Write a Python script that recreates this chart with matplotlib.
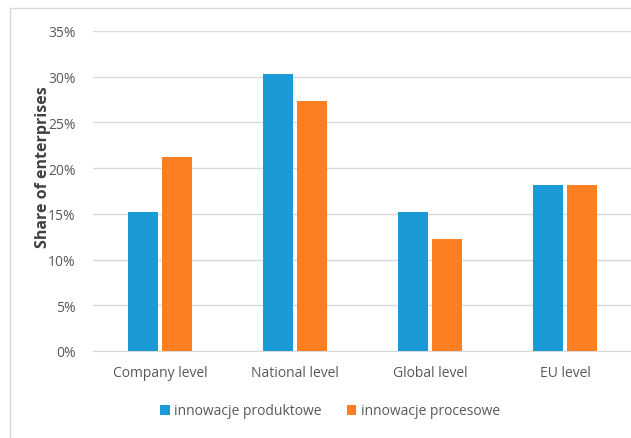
import matplotlib
matplotlib.use('Agg')
import matplotlib.pyplot as plt
import numpy as np
from matplotlib.patches import Rectangle
from matplotlib.ticker import PercentFormatter

plt.rcParams['font.family'] = ['Open Sans', 'DejaVu Sans']

# data
categories = ['Company level', 'National level', 'Global level', 'EU level']
series_names = ['innowacje produktowe', 'innowacje procesowe']
produktowe = [15.2, 30.3, 15.2, 18.2]
procesowe = [21.2, 27.3, 12.2, 18.2]
y_ticks = [0, 5, 10, 15, 20, 25, 30, 35]

blue = '#1a9ad6'
orange = '#fd7f22'
txt = '#595959'


def main():
    fig = plt.figure(figsize=(6.31, 4.39), dpi=100)
    # light frame around the chart area
    fig.patches.append(Rectangle((10 / 631, -0.05), 1.1, 0.05 + 1 - 9 / 439,
                                 transform=fig.transFigure, fill=False,
                                 edgecolor='#d9d9d9', linewidth=1.0))

    ax = fig.add_axes([92.5 / 631, 1 - 352 / 439, 540 / 631, 320 / 439])

    x = np.arange(len(categories))
    w = 0.22
    gap = 0.03
    ax.bar(x - (w + gap) / 2, produktowe, w, color=blue, label=series_names[0], zorder=3)
    ax.bar(x + (w + gap) / 2, procesowe, w, color=orange, label=series_names[1], zorder=3)

    ax.set_xlim(-0.5, 3.5)
    ax.set_ylim(0, 35)
    ax.set_yticks(y_ticks)
    ax.yaxis.set_major_formatter(PercentFormatter(decimals=0))
    ax.set_xticks(x)
    ax.set_xticklabels(categories)
    ax.tick_params(axis='both', length=0, colors=txt, labelsize=10)
    ax.tick_params(axis='x', pad=10)
    ax.tick_params(axis='y', pad=12)
    ax.grid(axis='y', color='#d9d9d9', linewidth=1, zorder=0)
    for s in ['top', 'right', 'left']:
        ax.spines[s].set_visible(False)
    ax.spines['bottom'].set_color('#d9d9d9')

    ax.set_ylabel('Share of enterprises', fontsize=11.5, fontweight='bold',
                  color='#404040')
    ax.yaxis.set_label_coords(-0.077, 0.578)

    ax.legend(loc='center', bbox_to_anchor=(330 / 631, 1 - 412 / 439),
              bbox_transform=fig.transFigure, ncol=2, frameon=False,
              fontsize=10, labelcolor=txt, handlelength=0.7, handleheight=0.7,
              handletextpad=0.3, columnspacing=1.8)

    fig.savefig('out.png', dpi=100)


if __name__ == "__main__":
    main()
